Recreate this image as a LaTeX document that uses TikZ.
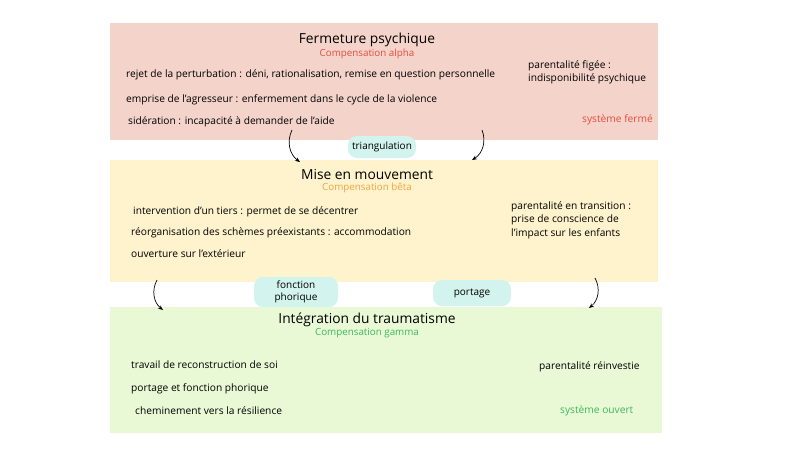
\documentclass[tikz,border=0pt]{standalone}
\usepackage{fontspec}
\setmainfont{Open Sans}
\usetikzlibrary{arrows.meta}
\definecolor{boxred}{HTML}{F4D3CB}
\definecolor{boxyellow}{HTML}{FEF3CD}
\definecolor{boxgreen}{HTML}{E9F9D6}
\definecolor{pill}{HTML}{D3F3EE}
\definecolor{txtred}{HTML}{E84C3D}
\definecolor{txtorange}{HTML}{F2A541}
\definecolor{txtgreen}{HTML}{3CB95B}
\tikzset{
  txt/.style={anchor=west, font=\fontsize{10.2}{12}\selectfont, inner sep=0pt},
  titre/.style={font=\fontsize{13.8}{16}\selectfont, inner sep=0pt},
  sous/.style={font=\fontsize{9.8}{12}\selectfont, inner sep=0pt},
  pastille/.style={fill=pill, rounded corners=9pt, inner sep=0pt, font=\fontsize{10}{12}\selectfont, align=center},
  fleche/.style={-{Stealth[length=5pt,width=4pt]}, line width=0.7pt}
}
\begin{document}
\begin{tikzpicture}[x=1pt,y=-1pt]
  \useasboundingbox (0,0) rectangle (800,450);

  % les trois blocs
  \fill[boxred] (110,23) rectangle (658,140);
  \fill[boxyellow] (110,160) rectangle (658,282);
  \fill[boxgreen] (110,307) rectangle (662,433);

  % fermeture
  \node[titre] (t1) at (367,40) {Fermeture psychique};
  \node[sous, text=txtred] (s1) at (367,54) {Compensation alpha};
  \node[txt] (r1) at (126,75) {rejet de la perturbation : déni, rationalisation, remise en question personnelle};
  \node[txt] (r2) at (126,100) {emprise de l'agresseur : enfermement dans le cycle de la violence};
  \node[txt] (r3) at (128,122) {sidération : incapacité à demander de l'aide};
  \node[txt] (r4) at (528,66) {parentalité figée :};
  \node[txt] (r5) at (528,79) {indisponibilité psychique};
  \node[txt, text=txtred] (r6) at (582,120) {système fermé};

  % mouvement
  \node[titre] (t2) at (367,175) {Mise en mouvement};
  \node[sous, text=txtorange] (s2) at (367,188) {Compensation bêta};
  \node[txt] (j1) at (133,212) {intervention d'un tiers : permet de se décentrer};
  \node[txt] (j2) at (131,233) {réorganisation des schèmes préexistants : accommodation};
  \node[txt] (j3) at (131,254) {ouverture sur l'extérieur};
  \node[txt] (j4) at (511,207) {parentalité en transition :};
  \node[txt] (j5) at (511,220) {prise de conscience de};
  \node[txt] (j6) at (511,234) {l'impact sur les enfants};

  % intégration
  \node[titre] (t3) at (367,320) {Intégration du traumatisme};
  \node[sous, text=txtgreen] (s3) at (367,333) {Compensation gamma};
  \node[txt] (v1) at (131,365) {travail de reconstruction de soi};
  \node[txt] (v2) at (131,389) {portage et fonction phorique};
  \node[txt] (v3) at (135,411) {cheminement vers la résilience};
  \node[txt] (v4) at (539,367) {parentalité réinvestie};
  \node[txt, text=txtgreen] (v5) at (560,411) {système ouvert};

  % pastilles
  \node[pastille, minimum width=68pt, minimum height=22pt] (triang) at (382,147) {triangulation};
  \node[pastille, minimum width=84pt, minimum height=30pt] (phor) at (296,292) {fonction\\phorique};
  \node[pastille, minimum width=78pt, minimum height=26pt] (port) at (472,293) {portage};

  % flèches
  \coordinate (a1) at (292,130); \coordinate (b1) at (300,162);
  \coordinate (a2) at (482,130); \coordinate (b2) at (472,160);
  \coordinate (a3) at (157,280); \coordinate (b3) at (163,310);
  \coordinate (a4) at (595,278); \coordinate (b4) at (589,308);
  \draw[fleche] (a1) to[bend right=40] (b1);
  \draw[fleche] (a2) to[bend left=40] (b2);
  \draw[fleche] (a3) to[bend right=40] (b3);
  \draw[fleche] (a4) to[bend left=40] (b4);
\end{tikzpicture}
\end{document}
